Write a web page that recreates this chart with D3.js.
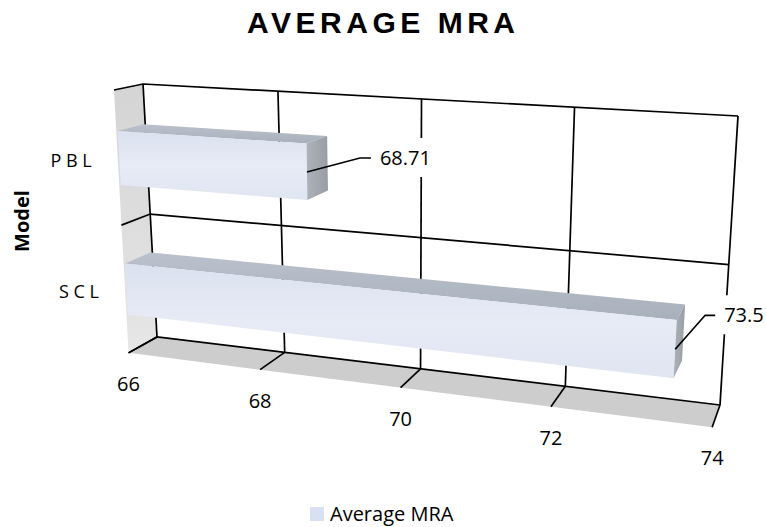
<!DOCTYPE html>
<html>
<head>
<meta charset="utf-8">
<script src="https://cdn.jsdelivr.net/npm/d3@7"></script>
<style>
  body { margin: 0; background: #fff; }
  text { font-family: "Open Sans", "Liberation Sans", sans-serif; fill: #000; }
</style>
</head>
<body>
<div id="chart"></div>
<script>
// chart data
var categories = ["P B L", "S C L"];
var values = [68.71, 73.5];
var valueLabels = ["68.71", "73.5"];
var ticks = [66, 68, 70, 72, 74];
var seriesName = "Average MRA";

var svgWidth = 766;
var svgHeight = 527;

var svg = d3.select("#chart")
  .append("svg")
  .attr("width", svgWidth)
  .attr("height", svgHeight);

// gradients for the 3d faces
var defs = svg.append("defs");
function grad(id, stops, x2, y2) {
  var g = defs.append("linearGradient").attr("id", id)
    .attr("x1", 0).attr("y1", 0).attr("x2", x2).attr("y2", y2);
  stops.forEach(function(s) {
    g.append("stop").attr("offset", s[0]).attr("stop-color", s[1]);
  });
}
grad("frontGrad", [[0, "#dbe1ef"], [0.5, "#e7ebf6"], [1, "#e0e5f2"]], 0, 1);
grad("topGrad", [[0, "#bac1cc"], [1, "#a8b0bc"]], 0, 1);
grad("endGrad", [[0, "#aeb3ba"], [1, "#989da5"]], 1, 0);
grad("wallGrad", [[0, "#d4d4d4"], [1, "#e6e6e6"]], 0, 1);

// perspective box: back wall corners + vanishing point for the depth axis
var backTL = [143, 84], backTR = [738, 116], backBL = [157, 337], backBR = [720, 405];
var vp = [887, -70];

function warp(t, c) { return t * (1 + c) / (1 + c * t); }
function lerp(a, b, t) { return [a[0] + (b[0] - a[0]) * t, a[1] + (b[1] - a[1]) * t]; }

// u = value (0..1), h = height (0 floor .. 1 top), d = depth (0 back .. 1 front)
function project(u, h, d) {
  var a = warp(u, -0.12);
  var t = warp(1 - h, 0.0576);
  var b = lerp(lerp(backTL, backTR, a), lerp(backBL, backBR, a), t);
  var k = (0.039 + 0.008 * a) * d;
  return [b[0] + (b[0] - vp[0]) * k, b[1] + (b[1] - vp[1]) * k];
}

// Step 1: scales
var xScale = d3.scaleLinear().domain([66, 74]).range([0, 1]);
var yScale = d3.scaleBand().domain(categories).range([1, 0]);

var line = d3.line();
function poly(pts) { return line(pts) + "Z"; }

// Step 2: walls
svg.append("path")
  .attr("d", poly([project(0, 0, 0), project(1, 0, 0), project(1, 0, 1), project(0, 0, 1)]))
  .attr("fill", "#cdcdcd");

svg.append("path")
  .attr("d", poly([project(0, 1, 0), project(0, 0, 0), project(0, 0, 1), project(0, 1, 1)]))
  .attr("fill", "url(#wallGrad)");

// Step 3: gridlines
var grid = svg.append("g")
  .attr("stroke", "#000")
  .attr("stroke-width", 1.7)
  .attr("fill", "none");

ticks.forEach(function(t) {
  var u = xScale(t);
  grid.append("path").attr("d", line([project(u, 0, 0), project(u, 1, 0)]));
  grid.append("path").attr("d", line([project(u, 0, 0), project(u, 0, 1)]));
});

var levels = [0, 0.5, 1];
levels.forEach(function(h) {
  grid.append("path").attr("d", line([project(0, h, 1), project(0, h, 0), project(1, h, 0)]));
});

// Step 4: bars
var thick = yScale.bandwidth() * 0.4;
var d0 = 0.06, d1 = 0.95;

categories.forEach(function(c, i) {
  var ub = xScale(values[i]);
  var hc = yScale(c) + yScale.bandwidth() / 2;
  var h0 = hc - thick / 2, h1 = hc + thick / 2;
  var g = svg.append("g").attr("class", "bar");
  g.append("path")
    .attr("d", poly([project(0, h1, d0), project(ub, h1, d0), project(ub, h1, d1), project(0, h1, d1)]))
    .attr("fill", "url(#topGrad)");
  g.append("path")
    .attr("d", poly([project(0, h0, d1), project(ub, h0, d1), project(ub, h1, d1), project(0, h1, d1)]))
    .attr("fill", "url(#frontGrad)");
  g.append("path")
    .attr("d", poly([project(ub, h0, d0), project(ub, h1, d0), project(ub, h1, d1), project(ub, h0, d1)]))
    .attr("fill", "url(#endGrad)");
});

// Step 5: data labels with leader lines
var labelNudge = [[53, -14, 11], [30, -34, 10]];

categories.forEach(function(c, i) {
  var ub = xScale(values[i]);
  var hc = yScale(c) + yScale.bandwidth() / 2;
  var p = project(ub, hc, d1);
  var n = labelNudge[i];
  var bend = [p[0] + n[0], p[1] + n[1]];
  var end = [bend[0] + n[2], bend[1]];

  var lg = svg.append("g");
  var box = lg.append("rect").attr("fill", "#fff");
  var txt = lg.append("text")
    .attr("x", end[0] + 9)
    .attr("y", end[1] + 7)
    .attr("font-size", "20px")
    .text(valueLabels[i]);
  var bb = txt.node().getBBox();
  box.attr("x", bb.x - 7).attr("y", bb.y - 6)
    .attr("width", bb.width + 14).attr("height", bb.height + 12);

  lg.append("path")
    .attr("d", line([p, bend, end]))
    .attr("stroke", "#000")
    .attr("stroke-width", 1.7)
    .attr("fill", "none");
});

// Step 6: axis labels
svg.append("g").selectAll("text")
  .data(ticks)
  .enter()
  .append("text")
  .attr("x", d => project(xScale(d), 0, 1)[0])
  .attr("y", d => project(xScale(d), 0, 1)[1] + 38)
  .attr("text-anchor", "middle")
  .attr("font-size", "20px")
  .text(d => d);

svg.append("g").selectAll("text")
  .data(categories)
  .enter()
  .append("text")
  .attr("x", d => project(0, yScale(d) + yScale.bandwidth() / 2, 1)[0] - 26)
  .attr("y", d => project(0, yScale(d) + yScale.bandwidth() / 2, 1)[1] + 8)
  .attr("text-anchor", "end")
  .attr("font-size", "18px")
  .text(d => d);

svg.append("text")
  .attr("transform", "translate(29, 221) rotate(-90)")
  .attr("text-anchor", "middle")
  .attr("font-size", "20px")
  .attr("font-weight", "bold")
  .text("Model");

// Title
svg.append("text")
  .attr("x", 247)
  .attr("y", 33)
  .style("font-family", "'Liberation Sans', Arial, sans-serif")
  .attr("font-size", "30px")
  .attr("font-weight", "bold")
  .attr("textLength", 268)
  .attr("lengthAdjust", "spacing")
  .text("AVERAGE MRA");

// Legend
var legend = svg.append("g");
legend.append("rect")
  .attr("x", 310).attr("y", 507)
  .attr("width", 14).attr("height", 14)
  .attr("fill", "#d9e0f1");
legend.append("text")
  .attr("x", 330).attr("y", 521)
  .attr("font-size", "20px")
  .text(seriesName);
</script>
</body>
</html>
